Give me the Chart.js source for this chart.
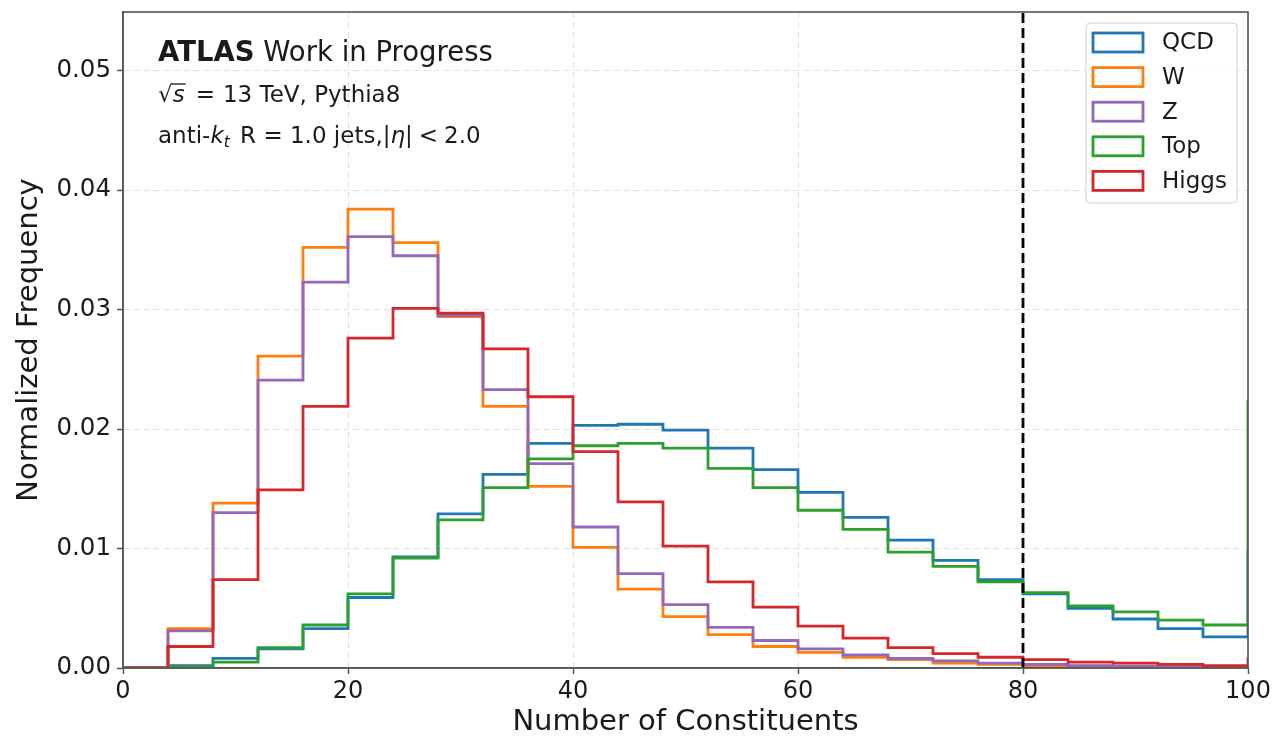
<!DOCTYPE html>
<html><head><meta charset="utf-8">
<script src="https://cdn.jsdelivr.net/npm/chart.js@4.4.1/dist/chart.umd.min.js"></script>
<style>html,body{margin:0;padding:0;background:#fff;} canvas{display:block;}</style>
</head><body>
<canvas id="c" width="1279" height="741"></canvas>
<script>
// ---- data ----
const binEdges = [0,4,8,12,16,20,24,28,32,36,40,44,48,52,56,60,64,68,72,76,80,84,88,92,96,100,104];
const seriesNames = ['QCD','W','Z','Top','Higgs'];
const qcdValues   = [0,0.0002,0.0008,0.0016,0.0033,0.0059,0.0093,0.0129,0.0162,0.0188,0.0203,0.0204,0.0199,0.0184,0.0166,0.0147,0.0126,0.0107,0.0090,0.0074,0.0062,0.0050,0.0041,0.0033,0.0026,0.0099];
const wValues     = [0,0.0033,0.0138,0.0261,0.0352,0.0384,0.0356,0.0294,0.0219,0.0152,0.0101,0.0066,0.0043,0.0028,0.0018,0.0013,0.0009,0.0007,0.0004,0.0003,0.0002,0.00015,0.0001,0.0001,0.00005,0.0002];
const zValues     = [0,0.0031,0.0130,0.0241,0.0323,0.0361,0.0345,0.0295,0.0233,0.0171,0.0118,0.0079,0.0053,0.0034,0.0023,0.0016,0.0011,0.0008,0.0006,0.0004,0.0003,0.0002,0.00015,0.0001,0.0001,0.0003];
const topValues   = [0,0.0001,0.0005,0.0017,0.0036,0.0062,0.0092,0.0124,0.0151,0.0175,0.0186,0.0188,0.0184,0.0167,0.0151,0.0132,0.0116,0.0097,0.0085,0.0072,0.0063,0.0052,0.0047,0.0040,0.0036,0.0224];
const higgsValues = [0,0.0018,0.0074,0.0149,0.0219,0.0276,0.0301,0.0297,0.0267,0.0227,0.0181,0.0139,0.0102,0.0072,0.0051,0.0035,0.0025,0.0017,0.0012,0.0009,0.0007,0.0005,0.0004,0.0003,0.0002,0.0009];
const cutValue = 80;
const xTicks = [0,20,40,60,80,100];
const xTickLabels = ['0','20','40','60','80','100'];
const yTicks = [0,0.01,0.02,0.03,0.04,0.05];
const yTickLabels = ['0.00','0.01','0.02','0.03','0.04','0.05'];
const xRange = [0,100];
const yRange = [0,0.0549];

// ---- styles ----
const colors = ['#1f77b4','#ff7f0e','#9467bd','#2ca02c','#d62728'];
const allValues = [qcdValues,wValues,zValues,topValues,higgsValues];
const FONT = "'DejaVu Sans'";
Chart.defaults.font.family = FONT;
Chart.defaults.color = '#1a1a1a';

function histPoints(vals){
  const pts = vals.map((v,i)=>({x:binEdges[i], y:v}));
  pts.push({x:binEdges[vals.length], y:vals[vals.length-1]});
  return pts;
}

const datasets = seriesNames.map((name,i)=>({
  label:name,
  data:histPoints(allValues[i]),
  borderColor:colors[i],
  backgroundColor:'#ffffff',
  borderWidth:2.8,
  stepped:'before',
  pointRadius:0,
  fill:false,
  borderJoinStyle:'miter',
  borderCapStyle:'butt',
  order:5-i
}));
datasets.push({
  label:'cut',
  isCut:true,
  data:[{x:cutValue,y:yRange[0]},{x:cutValue,y:yRange[1]}],
  borderColor:'#000000',
  borderWidth:2.8,
  borderDash:[10,5],
  pointRadius:0,
  fill:false,
  order:0
});

const frameColor = '#555555';

const framePlugin = {
  id:'frame',
  afterDatasetsDraw(chart){
    const {ctx, chartArea:a} = chart;
    ctx.save();
    ctx.strokeStyle = frameColor;
    ctx.lineWidth = 1.6;
    ctx.strokeRect(a.left, a.top, a.right-a.left, a.bottom-a.top);
    ctx.restore();
  }
};

function runs(ctx, x, y, parts){
  for (const p of parts){
    ctx.font = p.font;
    const dy = p.dy || 0;
    x += (p.before || 0);
    ctx.fillText(p.text, x, y+dy);
    const w = ctx.measureText(p.text).width;
    if (p.overline){
      ctx.save();
      ctx.strokeStyle = ctx.fillStyle;
      ctx.lineWidth = 1.3;
      ctx.beginPath();
      ctx.moveTo(x-1, y+p.overline);
      ctx.lineTo(x+w+1, y+p.overline);
      ctx.stroke();
      ctx.restore();
    }
    x += w + (p.after || 0);
  }
  return x;
}

const textPlugin = {
  id:'annot',
  afterDraw(chart){
    const {ctx, chartArea:a} = chart;
    ctx.save();
    ctx.fillStyle = '#1a1a1a';
    ctx.textBaseline = 'alphabetic';
    ctx.textAlign = 'left';
    const x0 = a.left + 35;
    runs(ctx, x0, a.top + 49, [
      {text:'ATLAS', font:`bold 27.5px ${FONT}`},
      {text:' Work in Progress', font:`27.5px ${FONT}`}
    ]);
    runs(ctx, x0, a.top + 90, [
      {text:'\u221A', font:`23px ${FONT}`},
      {text:'s', font:`italic 23px ${FONT}`, overline:-18, after:3},
      {text:'=', font:`23px ${FONT}`, before:8, after:8},
      {text:'13 TeV, Pythia8', font:`23px ${FONT}`}
    ]);
    runs(ctx, x0, a.top + 131, [
      {text:'anti-', font:`23px ${FONT}`},
      {text:'k', font:`italic 23px ${FONT}`},
      {text:'t', font:`italic 15.5px ${FONT}`, dy:4, after:3},
      {text:' R = 1.0 jets,|', font:`23px ${FONT}`},
      {text:'\u03B7', font:`italic 23px ${FONT}`},
      {text:'|', font:`23px ${FONT}`},
      {text:'<', font:`23px ${FONT}`, before:6, after:6},
      {text:'2.0', font:`23px ${FONT}`}
    ]);

    // legend
    const lx = a.left + 963, ly = a.top + 11, lw = 151, lh = 180;
    ctx.fillStyle = 'rgba(255,255,255,0.85)';
    ctx.strokeStyle = '#d0d0d0';
    ctx.lineWidth = 1;
    ctx.beginPath();
    ctx.roundRect(lx, ly, lw, lh, 4);
    ctx.fill();
    ctx.stroke();
    const items = chart.data.datasets.filter(d=>!d.isCut);
    items.forEach((d,i)=>{
      const cy = ly + 19.5 + i*34.6;
      ctx.strokeStyle = d.borderColor;
      ctx.lineWidth = 2.8;
      ctx.fillStyle = '#ffffff';
      ctx.fillRect(lx+7, cy-9.5, 50, 19);
      ctx.strokeRect(lx+7, cy-9.5, 50, 19);
      ctx.fillStyle = '#1a1a1a';
      ctx.font = `23px ${FONT}`;
      ctx.textBaseline = 'middle';
      ctx.fillText(d.label, lx+76, cy+1);
    });
    ctx.restore();
  }
};

new Chart(document.getElementById('c'), {
  type:'line',
  data:{datasets},
  options:{
    responsive:false,
    animation:false,
    devicePixelRatio:1,
    layout:{padding:{left:0,top:12,right:31,bottom:0}},
    plugins:{legend:{display:false}, tooltip:{enabled:false}},
    scales:{
      x:{
        type:'linear', min:xRange[0], max:xRange[1],
        afterFit(s){ s.height = 73; s.paddingLeft = 0; s.paddingRight = 0; },
        afterBuildTicks(s){ s.ticks = xTicks.map(v=>({value:v})); },
        ticks:{ callback:(v,i)=>xTickLabels[i], font:{size:24}, padding:3, maxRotation:0, color:'#1a1a1a' },
        grid:{ color:'rgba(0,0,0,0.12)', lineWidth:1, tickLength:6, tickColor:frameColor, tickWidth:1.5 },
        border:{ display:true, color:frameColor, width:1.6, dash:[6,4] },
        title:{ display:true, text:'Number of Constituents', font:{size:29}, color:'#1a1a1a', padding:{top:0,bottom:1} }
      },
      y:{
        type:'linear', min:yRange[0], max:yRange[1],
        afterFit(s){ s.width = 123; s.paddingTop = 0; s.paddingBottom = 0; },
        afterBuildTicks(s){ s.ticks = yTicks.map(v=>({value:v})); },
        ticks:{ callback:(v,i)=>yTickLabels[i], font:{size:24.5}, padding:6, color:'#1a1a1a' },
        grid:{ color:'rgba(0,0,0,0.12)', lineWidth:1, tickLength:6, tickColor:frameColor, tickWidth:1.5 },
        border:{ display:true, color:frameColor, width:1.6, dash:[6,4] },
        title:{ display:true, text:'Normalized Frequency', font:{size:29}, color:'#1a1a1a', padding:{top:12,bottom:0} }
      }
    }
  },
  plugins:[framePlugin, textPlugin]
});
</script>
</body></html>
